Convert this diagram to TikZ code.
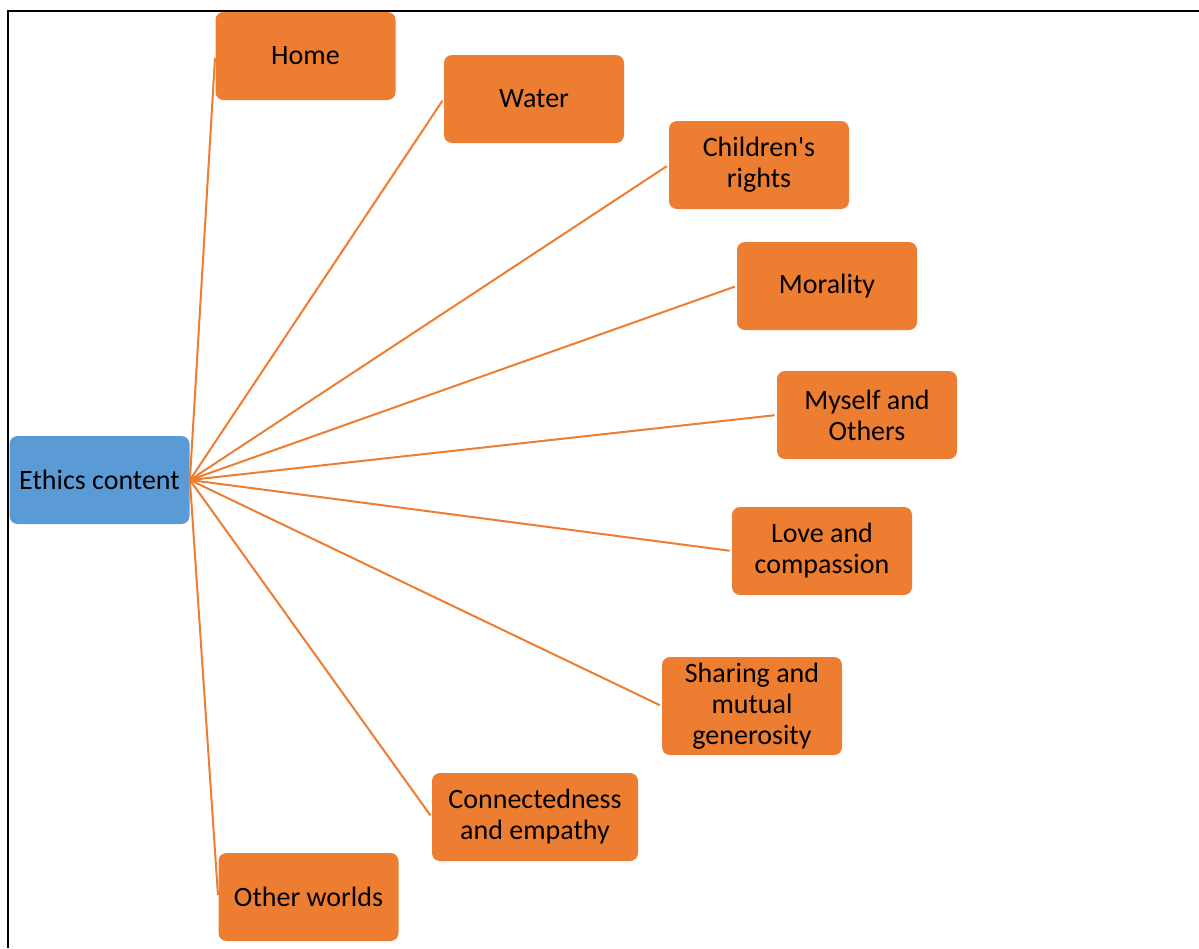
\documentclass[tikz,border=0pt]{standalone}
\usepackage{fontspec}
\setmainfont{Carlito}[Ligatures=TeXOff]
\definecolor{orng}{HTML}{ED7D31}
\definecolor{blu}{HTML}{5B9BD5}
\begin{document}
\begin{tikzpicture}[x=0.5pt,y=-0.5pt,
  box/.style={fill=orng, rounded corners=4pt, minimum width=90pt, minimum height=44pt,
    align=center, font=\fontsize{14}{15.5}\selectfont, inner sep=0pt, text=black},
  root/.style={box, fill=blu},
  link/.style={draw=orng, line width=1pt, shorten >=1pt}]
\useasboundingbox (0,0) rectangle (1199,948);
\draw[line width=1pt] (8,948) -- (8,11) -- (1199,11);
\node[root] (ethics) at (99.5,480) {Ethics content};
\node[box] (home) at (305.5,56) {Home};
\node[box] (water) at (534,99) {Water};
\node[box] (child) at (759,165) {Children's\\rights};
\node[box] (moral) at (827,286) {Morality};
\node[box] (myself) at (867,415) {Myself and\\Others};
\node[box] (love) at (822,551) {Love and\\compassion};
\node[box, minimum height=49pt] (share) at (752,706) {Sharing and\\mutual\\generosity};
\node[box, minimum width=103pt] (conn) at (535,817) {Connectedness\\and empathy};
\node[box] (other) at (308.5,897) {Other worlds};
\foreach \t in {home,water,child,moral,myself,love,share,conn,other}
  \draw[link] (ethics.east) -- (\t.west);
\end{tikzpicture}
\end{document}
